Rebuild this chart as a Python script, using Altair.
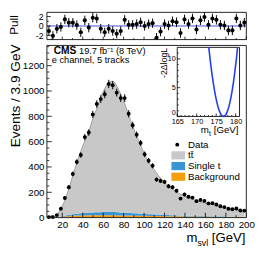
import altair as alt
import pandas as pd
import numpy as np

FONT = "Liberation Sans"

# ---------------- values ----------------
bin_low = 5.0
bin_width = 3.9
n_bins = 50

data_counts = [4, 4, 20, 70, 155, 240, 345, 440, 495, 636,
               672, 815, 897, 936, 974, 1056, 1046, 987, 944, 944,
               820, 730, 655, 590, 500, 450, 410, 300, 290, 282,
               248, 240, 212, 150, 182, 165, 158, 130, 140, 132,
               112, 114, 103, 90, 83, 70, 66, 72, 56, 55]
tt_counts = [8, 9, 19, 63, 123, 208, 306, 405, 490, 569,
             641, 739, 818, 907, 976, 1026, 1034, 998, 934, 861,
             775, 689, 611, 540, 470, 415, 372, 326, 289, 257,
             227, 207, 184, 168, 155, 143, 132, 123, 114, 105,
             97, 91, 84, 77, 70, 66, 60, 54, 49, 44]
singlet_counts = [0, 0, 1, 3, 6, 9, 12, 15, 18, 20,
                  22, 23, 24, 25, 26, 26, 26, 25, 24, 23,
                  22, 20, 19, 17, 16, 14, 13, 12, 11, 10,
                  9, 8, 7, 7, 6, 6, 5, 5, 4, 4,
                  4, 3, 3, 3, 3, 2, 2, 2, 2, 2]
bkg_counts = [0, 1, 3, 6, 9, 12, 14, 16, 17, 17,
              18, 18, 18, 18, 18, 18, 18, 17, 17, 16,
              16, 15, 15, 14, 14, 13, 13, 12, 12, 11,
              11, 10, 10, 10, 9, 9, 9, 8, 8, 8,
              8, 7, 7, 7, 7, 6, 6, 6, 6, 6]
pull_values = [-1.06, -2.1, -0.6, -0.2, 1.4, 0.7, 0.7, 0.2, -1.35, 1.2,
               -0.35, 1.76, 1.6, -0.6, -1.35, -0.6, -1.06, -1.65, -1.06, 1.3,
               0.24, 0.24, 0.4, 0.8, 0.0, 0.4, 0.6, -2.5, -1.2, 0.4,
               0.1, 1.0, 0.8, -1.5, 1.4, 0.4, 1.6, -0.75, 1.2, 1.9,
               0.24, 1.6, 1.3, 0.24, 0.1, -0.95, -0.95, 1.6, 0.1, 0.7]

# inset: -2 Delta log L versus m_t
mt_values = [173.1, 173.5, 174.0, 174.5, 175.0, 175.5, 176.0, 176.5, 176.9,
             177.3, 177.8, 178.3, 178.8, 179.3, 179.8, 180.2, 180.5]
nll_values = [12.0, 9.6, 7.0, 4.8, 3.0, 1.6, 0.67, 0.13, 0.0,
              0.15, 0.75, 1.8, 3.3, 5.3, 7.8, 10.0, 12.0]

# tick values
x_major = [20, 40, 60, 80, 100, 120, 140, 160, 180, 200]
x_minor = [10, 30, 50, 70, 90, 110, 130, 150, 170, 190]
y_major = [0, 200, 400, 600, 800, 1000, 1200]
y_minor = [v for v in range(50, 1360, 50) if v % 200 != 0]
pull_major = [-2, 0, 2]
pull_minor = [-1, 1]
ins_x_major = [165, 170, 175, 180]
ins_x_minor = [v for v in range(166, 181) if v % 5 != 0]
ins_y_major = [0, 5, 10]
ins_y_minor = [v for v in range(1, 12) if v % 5 != 0]

components = ["Background", "Single t", "tt"]
comp_colors = ["#f59d0c", "#3a96d2", "#c8c8c8"]

# ---------------- layout ----------------
W, H = 205, 211
PULL_H = 28
FRAME = "#222222"
X_DOM = [5, 200]
MAIN_Y_DOM = [0, 1360]
PULL_Y_DOM = [-2.9, 2.9]
INS_X_DOM = [165, 181]
INS_Y_DOM = [0, 12]

X_SCALE = alt.Scale(domain=X_DOM, nice=False, zero=False)
MAIN_Y = alt.Scale(domain=MAIN_Y_DOM, range=[211, 34], nice=False, zero=False)
PULL_Y = alt.Scale(domain=PULL_Y_DOM, range=[PULL_H, 0], nice=False, zero=False, clamp=True)
INS_X = alt.Scale(domain=INS_X_DOM, range=[134, 198], nice=False, zero=False)
INS_Y = alt.Scale(domain=INS_Y_DOM, range=[107, 36], nice=False, zero=False)

x_px = (X_DOM[1] - X_DOM[0]) / W
main_y_px = (MAIN_Y_DOM[1] - MAIN_Y_DOM[0]) / (211 - 34)
pull_y_px = (PULL_Y_DOM[1] - PULL_Y_DOM[0]) / PULL_H
ins_x_px = (INS_X_DOM[1] - INS_X_DOM[0]) / (198 - 134)
ins_y_px = (INS_Y_DOM[1] - INS_Y_DOM[0]) / (107 - 36)

common_axis = dict(labelFont=FONT, labelColor="black", ticks=False, domain=False,
                   grid=False, title=None, labelOverlap=False)
MAIN_XA = alt.Axis(orient="bottom", values=x_major, format="d", labelFontSize=10,
                   labelPadding=2, labelFlush=False, **common_axis)
MAIN_YA = alt.Axis(orient="left", values=y_major, format="d", labelFontSize=10,
                   labelPadding=3, labelFlush=False, **common_axis)
PULL_YA = alt.Axis(orient="left", values=pull_major, labelFontSize=9, labelPadding=4,
                   labelFlush=False,
                   labelExpr="datum.value < 0 ? '-' + abs(datum.value) : '' + datum.value",
                   **common_axis)
INS_XA = alt.Axis(orient="bottom", offset=-(211 - 107), values=ins_x_major, format="d",
                  labelFontSize=7.5, labelPadding=1, labelFlush=False, **common_axis)
INS_YA = alt.Axis(orient="left", offset=-134, values=ins_y_major, format="d",
                  labelFontSize=7.5, labelPadding=2, labelFlush=True, **common_axis)

centers = bin_low + bin_width * (np.arange(n_bins) + 0.5)


def frame(x0, x1, y0, y1, xs, xa, ys, ya, fill="transparent"):
    df = pd.DataFrame({"x": [x0], "x2": [x1], "y": [y0], "y2": [y1]})
    return alt.Chart(df).mark_rect(fill=fill, stroke=FRAME, strokeWidth=1).encode(
        x=alt.X("x:Q", scale=xs, axis=xa), x2="x2:Q",
        y=alt.Y("y:Q", scale=ys, axis=ya), y2="y2:Q")


def xticks(vals, y0, dy, xs, xa, ys, ya):
    df = pd.DataFrame({"x": vals, "y": [y0] * len(vals), "y2": [y0 + dy] * len(vals)})
    return alt.Chart(df).mark_rule(color="black", strokeWidth=0.8).encode(
        x=alt.X("x:Q", scale=xs, axis=xa),
        y=alt.Y("y:Q", scale=ys, axis=ya), y2="y2:Q")


def yticks(vals, x0, dx, xs, xa, ys, ya):
    df = pd.DataFrame({"y": vals, "x": [x0] * len(vals), "x2": [x0 + dx] * len(vals)})
    return alt.Chart(df).mark_rule(color="black", strokeWidth=0.8).encode(
        x=alt.X("x:Q", scale=xs, axis=xa), x2="x2:Q",
        y=alt.Y("y:Q", scale=ys, axis=ya))


def label(text, x, y, size, align="left", baseline="alphabetic", angle=0, weight="normal"):
    ch = alt.Chart(pd.DataFrame({"t": [text]})).mark_text(
        font=FONT, fontSize=size, align=align, baseline=baseline, angle=angle,
        fontWeight=weight, color="black")
    return ch.encode(x=alt.value(x), y=alt.value(y), text="t:N")


P = (X_SCALE, MAIN_XA, PULL_Y, PULL_YA)
M = (X_SCALE, MAIN_XA, MAIN_Y, MAIN_YA)
I = (INS_X, INS_XA, INS_Y, INS_YA)

# ---------------- pull panel ----------------
pull_df = pd.DataFrame({"x": centers, "p": pull_values})
pull_df["lo"] = pull_df["p"] - 1.0
pull_df["hi"] = pull_df["p"] + 1.0

pull_frame = frame(X_DOM[0], X_DOM[1], PULL_Y_DOM[0], PULL_Y_DOM[1], *P)
pull_zero = alt.Chart(pd.DataFrame({"x": [X_DOM[0]], "x2": [X_DOM[1]], "y": [0]})).mark_rule(
    color="#4b4bd8", strokeWidth=1).encode(
    x=alt.X("x:Q", scale=X_SCALE, axis=MAIN_XA), x2="x2:Q",
    y=alt.Y("y:Q", scale=PULL_Y, axis=PULL_YA))
pull_err = alt.Chart(pull_df).mark_rule(color="black", strokeWidth=1).encode(
    x=alt.X("x:Q", scale=X_SCALE, axis=MAIN_XA),
    y=alt.Y("lo:Q", scale=PULL_Y, axis=PULL_YA), y2="hi:Q")
pull_pts = alt.Chart(pull_df).mark_circle(size=18, color="black", opacity=1).encode(
    x=alt.X("x:Q", scale=X_SCALE, axis=MAIN_XA),
    y=alt.Y("p:Q", scale=PULL_Y, axis=PULL_YA))

pull_group = alt.layer(
    pull_frame, pull_zero, pull_err, pull_pts,
    xticks(x_major, PULL_Y_DOM[0], 3 * pull_y_px, *P),
    xticks(x_minor, PULL_Y_DOM[0], 1.5 * pull_y_px, *P),
    yticks(pull_major, X_DOM[0], 4 * x_px, *P),
    yticks(pull_minor, X_DOM[0], 2 * x_px, *P),
    label("Pull", -29.5, 3, 12, align="right", angle=270),
)

# ---------------- main panel ----------------
stack_rows = []
for name, vals in zip(components, [bkg_counts, singlet_counts, tt_counts]):
    for xc, v in zip(centers, vals):
        stack_rows.append({"x": xc, "comp": name, "val": v, "ord": components.index(name)})
stack_df = pd.DataFrame(stack_rows)

total_df = pd.DataFrame({"x": centers,
                         "tot": np.array(tt_counts) + np.array(singlet_counts) + np.array(bkg_counts)})

pts_df = pd.DataFrame({"x": centers, "y": data_counts})
pts_df["lo"] = pts_df["y"] - np.sqrt(pts_df["y"])
pts_df["hi"] = pts_df["y"] + np.sqrt(pts_df["y"])

area = alt.Chart(stack_df).mark_area(interpolate="monotone").encode(
    x=alt.X("x:Q", scale=X_SCALE, axis=MAIN_XA),
    y=alt.Y("val:Q", stack="zero", scale=MAIN_Y, axis=MAIN_YA),
    color=alt.Color("comp:N", scale=alt.Scale(domain=components, range=comp_colors), legend=None),
    order=alt.Order("ord:Q"))
outline = alt.Chart(total_df).mark_line(interpolate="monotone", color="#8c8c8c", strokeWidth=0.8).encode(
    x=alt.X("x:Q", scale=X_SCALE, axis=MAIN_XA),
    y=alt.Y("tot:Q", scale=MAIN_Y, axis=MAIN_YA))
data_err = alt.Chart(pts_df).mark_rule(color="black", strokeWidth=1).encode(
    x=alt.X("x:Q", scale=X_SCALE, axis=MAIN_XA),
    y=alt.Y("lo:Q", scale=MAIN_Y, axis=MAIN_YA), y2="hi:Q")
data_pts = alt.Chart(pts_df).mark_circle(size=16, color="black", opacity=1).encode(
    x=alt.X("x:Q", scale=X_SCALE, axis=MAIN_XA),
    y=alt.Y("y:Q", scale=MAIN_Y, axis=MAIN_YA))

main_frame = frame(X_DOM[0], X_DOM[1], MAIN_Y_DOM[0], MAIN_Y_DOM[1], *M)

# legend
leg_data_dot = alt.Chart(pd.DataFrame({"t": ["Data"]})).mark_circle(
    size=16, color="black", opacity=1).encode(x=alt.value(134), y=alt.value(136))


def leg_box(color, yc):
    return alt.Chart(pd.DataFrame({"t": [color]})).mark_rect(color=color).encode(
        x=alt.value(128), x2=alt.value(142), y=alt.value(yc - 4.2), y2=alt.value(yc + 4.2))


# axis title with subscript, laid out from the right edge
xt_size, xs_size = 13.5, 9
gev_w = 2.835 * xt_size
svl_w = 1.222 * xs_size

main_group = alt.layer(
    area, outline,
    xticks(x_major, 0, 5 * main_y_px, *M),
    xticks(x_minor, 0, 2.5 * main_y_px, *M),
    yticks(y_major, X_DOM[0], 5 * x_px, *M),
    yticks(y_minor, X_DOM[0], 2.5 * x_px, *M),
    data_err, data_pts, main_frame,
    label("CMS", 7, 43, 10.5, weight="bold"),
    label("19.7 fb\u207b\u00b9 (8 TeV)", 33, 43, 9.5),
    label("e channel, 5 tracks", 5, 52.5, 9.5),
    leg_data_dot,
    leg_box(comp_colors[2], 147), leg_box(comp_colors[1], 158), leg_box(comp_colors[0], 169),
    label("Data", 145, 136, 10, baseline="middle"),
    label("tt\u0304", 145, 147, 10, baseline="middle"),
    label("Single t", 145, 158, 10, baseline="middle"),
    label("Background", 145, 169, 10, baseline="middle"),
    label("Events / 3.9 GeV", -28, 33, 14, align="right", angle=270),
    label("[GeV]", 204, 236, xt_size, align="right"),
    label("svl", 204 - gev_w, 240.5, xs_size, align="right"),
    label("m", 204 - gev_w - svl_w, 236, xt_size, align="right"),
)

inner = alt.layer(pull_group, main_group).resolve_scale(y="independent")

# ---------------- inset ----------------
ins_df = pd.DataFrame({"mt": mt_values, "nll": nll_values})
ins_frame = frame(INS_X_DOM[0], INS_X_DOM[1], INS_Y_DOM[0], INS_Y_DOM[1], *I, fill="white")
ins_curve = alt.Chart(ins_df).mark_line(interpolate="monotone", color="#1f3df5", strokeWidth=1.6).encode(
    x=alt.X("mt:Q", scale=INS_X, axis=INS_XA),
    y=alt.Y("nll:Q", scale=INS_Y, axis=INS_YA))

it_size, is_size = 10, 7
ins_gev_w = 2.835 * it_size
ins_t_w = 0.278 * is_size + 0.3

inset_group = alt.layer(
    ins_frame,
    xticks(ins_x_major, 0, 3 * ins_y_px, *I),
    xticks(ins_x_minor, 0, 1.5 * ins_y_px, *I),
    yticks(ins_y_major, INS_X_DOM[0], 3 * ins_x_px, *I),
    yticks(ins_y_minor, INS_X_DOM[0], 1.5 * ins_x_px, *I),
    ins_curve,
    label("-2\u0394logL", 123, 36.5, 9, align="right", angle=270),
    label("[GeV]", 197, 124.5, it_size, align="right"),
    label("t", 197 - ins_gev_w, 127, is_size, align="right"),
    label("m", 197 - ins_gev_w - ins_t_w, 124.5, it_size, align="right"),
)

chart = alt.layer(inner, inset_group).resolve_scale(
    x="independent", y="independent"
).properties(
    width=W, height=H,
    padding={"left": 40, "top": 1, "right": 12, "bottom": 36},
    autosize=alt.AutoSizeParams(type="none"),
).configure_view(strokeWidth=0)

chart.save("out.html", embed_options={"renderer": "svg", "actions": False})
